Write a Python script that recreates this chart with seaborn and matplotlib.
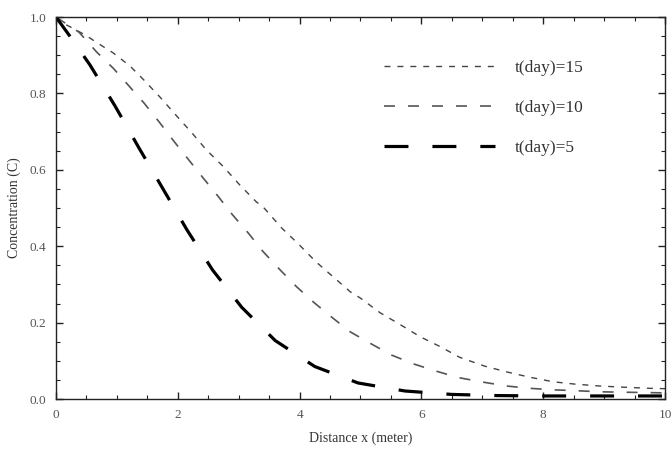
import matplotlib
matplotlib.use("Agg")
import matplotlib.pyplot as plt
import seaborn as sns
import pandas as pd
from matplotlib.ticker import MultipleLocator

# data
x_t15 = [0.0, 0.13, 0.48, 0.69, 0.94, 1.22, 1.45, 1.71, 1.97, 2.23, 2.47, 2.75, 3.02, 3.29,
         3.40, 3.71, 3.98, 4.27, 4.55, 4.83, 5.0, 5.32, 5.65, 5.98, 6.31, 6.63, 7.04, 7.40,
         7.78, 8.17, 8.52, 8.93, 9.31, 9.75, 10.0]
c_t15 = [1.0, 0.983, 0.953, 0.931, 0.906, 0.871, 0.834, 0.79, 0.743, 0.697, 0.652, 0.608, 0.56, 0.516,
         0.503, 0.447, 0.406, 0.359, 0.32, 0.281, 0.264, 0.226, 0.195, 0.163, 0.137, 0.109, 0.086, 0.071,
         0.057, 0.045, 0.039, 0.034, 0.031, 0.028, 0.027]

x_t10 = [0.0, 0.38, 0.67, 0.94, 1.19, 1.45, 1.70, 1.94, 2.19, 2.43, 2.66, 2.90, 3.16, 3.40,
         3.68, 3.95, 4.24, 4.53, 4.83, 5.18, 5.51, 5.87, 6.22, 6.61, 7.02, 7.40, 7.78, 8.17,
         8.52, 8.90, 9.26, 9.63, 10.0]
c_t10 = [1.0, 0.96, 0.908, 0.866, 0.821, 0.774, 0.724, 0.674, 0.624, 0.576, 0.531, 0.482, 0.434, 0.386,
         0.338, 0.294, 0.252, 0.214, 0.176, 0.144, 0.115, 0.092, 0.074, 0.056, 0.044, 0.034, 0.028, 0.024,
         0.022, 0.019, 0.018, 0.017, 0.016]

x_t5 = [0.0, 0.25, 0.56, 0.97, 1.36, 1.75, 2.15, 2.57, 3.05, 3.60, 4.25, 4.96, 5.73, 6.5,
        7.25, 8.0, 9.0, 10.0]
c_t5 = [1.0, 0.945, 0.874, 0.767, 0.658, 0.552, 0.443, 0.338, 0.24, 0.153, 0.085, 0.042, 0.021, 0.012,
        0.009, 0.008, 0.008, 0.008]

labels = ["t(day)=15", "t(day)=10", "t(day)=5"]
x_ticks = [0, 2, 4, 6, 8, 10]
x_ticklabels = ["0", "2", "4", "6", "8", "10"]
y_ticks = [0.0, 0.2, 0.4, 0.6, 0.8, 1.0]
y_ticklabels = ["0.0", "0.2", "0.4", "0.6", "0.8", "1.0"]

frames = []
for xs, cs, lab in [(x_t15, c_t15, labels[0]), (x_t10, c_t10, labels[1]), (x_t5, c_t5, labels[2])]:
    frames.append(pd.DataFrame({"x": xs, "c": cs, "series": lab}))
df = pd.concat(frames, ignore_index=True)

sns.set_style("ticks")
plt.rcParams["font.family"] = ["Liberation Serif", "DejaVu Serif"]

fig = plt.figure(figsize=(6.72, 4.5), dpi=100)
ax = fig.add_axes([0.0833, 0.1133, 0.9063, 0.8489])

styles = {
    labels[0]: dict(color="#444444", lw=1.0, dashes=(4.3, 5.0)),
    labels[1]: dict(color="#555555", lw=1.2, dashes=(6.6, 7.8)),
    labels[2]: dict(color="#000000", lw=2.3, dashes=(7.5, 7.5)),
}
for lab in labels:
    st = styles[lab]
    sub = df[df["series"] == lab]
    sns.lineplot(data=sub, x="x", y="c", ax=ax, color=st["color"], linewidth=st["lw"],
                 dashes=False, label=lab, estimator=None, sort=False)
    ax.lines[-1].set_dashes(st["dashes"])

ax.set_xlim(0, 10)
ax.set_ylim(0, 1.0)
ax.set_xticks(x_ticks)
ax.set_xticklabels(x_ticklabels)
ax.set_yticks(y_ticks)
ax.set_yticklabels(y_ticklabels)
ax.xaxis.set_minor_locator(MultipleLocator(0.5))
ax.yaxis.set_minor_locator(MultipleLocator(0.05))
ax.tick_params(which="both", direction="in", top=True, right=True, colors="#222222",
               labelcolor="#555555", labelsize=9.5)
ax.tick_params(axis="x", which="major", length=5, width=1, pad=7)
ax.tick_params(axis="y", which="major", length=5, width=1, pad=7)
ax.tick_params(which="minor", length=3, width=0.8)
for sp in ax.spines.values():
    sp.set_color("#222222")
    sp.set_linewidth(1.0)

ax.set_xlabel("Distance x (meter)", fontsize=10, color="#333333", labelpad=8)
ax.set_ylabel("Concentration (C)", fontsize=10, color="#333333", labelpad=6)

leg = ax.legend(loc="upper left", bbox_to_anchor=(0.527, 0.906), frameon=False,
                fontsize=12.5, handlelength=6.4, labelspacing=1.38, handletextpad=1.15,
                borderaxespad=0.0)
for t in leg.get_texts():
    t.set_color("#333333")

fig.savefig("out.png", dpi=100)
